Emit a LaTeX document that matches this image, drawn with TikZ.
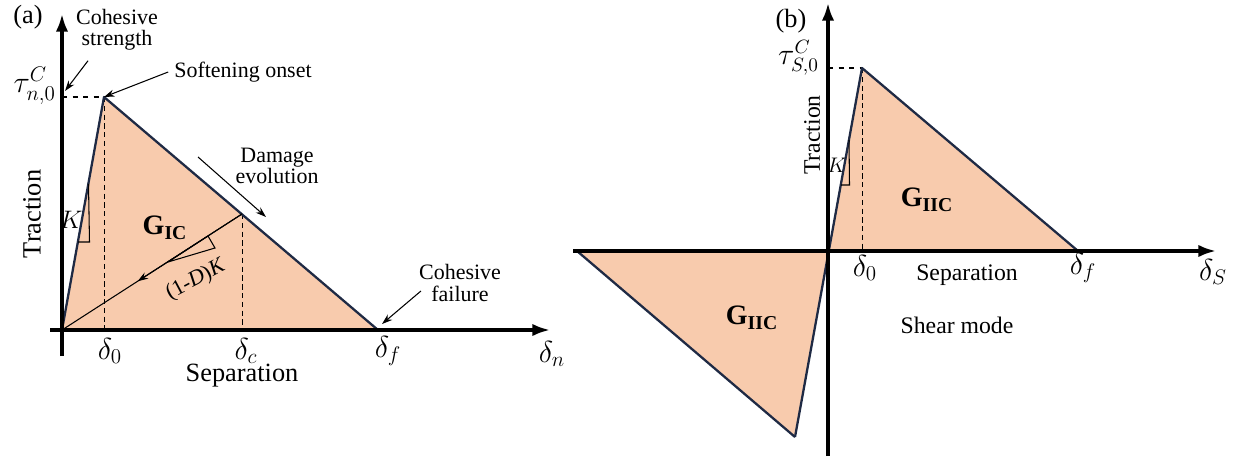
\documentclass[tikz,border=0pt]{standalone}
\usepackage{fontspec}
\setmainfont{Liberation Serif}
\usetikzlibrary{arrows.meta, positioning, calc}
\definecolor{peach}{HTML}{F8CBAD}
\definecolor{edgeblue}{HTML}{1F2A44}
\tikzset{
  axis/.style    = {line width=1.8pt, -{Latex[length=10pt,width=7pt]}},
  curve/.style   = {line width=1.3pt, draw=edgeblue, line join=round},
  area/.style    = {fill=peach},
  guide/.style   = {densely dashed, line width=0.5pt},
  level/.style   = {dashed, line width=1pt},
  note/.style    = {align=center, font=\fontsize{12.5}{12}\selectfont},
  pointer/.style = {line width=0.6pt, -{Stealth[length=6pt,width=4pt]}},
  title/.style   = {font=\fontsize{15}{16}\selectfont},
  tick/.style    = {font=\fontsize{18}{19}\selectfont},
  energy/.style  = {font=\fontsize{16}{17}\selectfont\bfseries}
}

\begin{document}
\begin{tikzpicture}[x=0.02cm, y=-0.02cm]
  \useasboundingbox (0,0) rectangle (1233,459);

  % Panel (a): key points of the normal law
  \coordinate (oa) at (62,330);
  \coordinate (pa) at (104,97);
  \coordinate (ca) at (242,214);
  \coordinate (fa) at (378,330);

  % Energy area and guides
  \fill[area] (oa) -- (pa) -- (fa) -- cycle;
  \draw[guide] (pa) -- (pa |- oa);
  \draw[guide] (ca) -- (ca |- oa);
  \draw[level] (62,97) -- (pa);
  \draw[curve] (oa) -- (pa) -- (fa);

  % Unloading path with reduced stiffness
  \draw[line width=0.6pt] (ca) -- (oa);
  \draw[line width=0.6pt, -{Stealth[length=6pt,width=4pt]}] (ca) -- ($(ca)!0.58!(oa)$);
  \draw[line width=0.6pt] (168,262) -- (208,236) -- (215,248) -- cycle;
  \draw[line width=0.6pt] (88.5,184) -- (89.5,242) -- (78,242);

  % Axes
  \draw[axis] (62,356) -- (62,14);
  \draw[axis] (50,330) -- (550,330);

  % Labels
  \node[title] (tag-a) at (28,17) {(a)};
  \node[anchor=east, font=\fontsize{18}{19}\selectfont] (tau-n) at (62,86) {$\tau^{C}_{n,0}$};
  \node[title, rotate=90] (trac-a) at (32,214) {Traction};
  \node[title] (sep-a) at (242,376) {Separation};
  \node[tick] (d0-a) at (110,351) {$\delta_0$};
  \node[tick] (dc-a) at (246,351) {$\delta_c$};
  \node[tick] (df-a) at (388,351) {$\delta_f$};
  \node[tick] (dn-a) at (552,354) {$\delta_n$};
  \node[energy] (gic) at (165,228) {G\textsubscript{IC}};
  \node[font=\fontsize{14}{15}\selectfont] (k-a) at (71,220) {$K$};
  \node[note, rotate=28] (dk) at (196,280) {(1-\textit{D})\textit{K}};

  % Annotations
  \node[note] (cs) at (117,30) {Cohesive\\strength};
  \node[note] (so) at (243,72) {Softening onset};
  \node[note] (de) at (277,166) {Damage\\evolution};
  \node[note] (cf) at (460,283) {Cohesive\\failure};
  \coordinate (tn) at (65,91);
  \coordinate (de-from) at (198,157);
  \coordinate (de-to) at (266,217);
  \draw[pointer] ([shift={(-29,4)}]cs.south) -- (tn);
  \draw[pointer] (so.west) -- (pa);
  \draw[pointer] (de-from) -- (de-to);
  \draw[pointer] ([shift={(8,8)}]cf.west) -- ([shift={(4,-6)}]fa);

  % Panel (b): key points of the shear law
  \coordinate (ob) at (829,251);
  \coordinate (pb) at (862,68);
  \coordinate (fb) at (1078,251);
  \coordinate (lb) at (577,251);
  \coordinate (bb) at (795,437);

  % Energy areas and guides
  \fill[area] (ob) -- (pb) -- (fb) -- cycle;
  \fill[area] (ob) -- (lb) -- (bb) -- cycle;
  \draw[guide] (pb) -- (pb |- ob);
  \draw[level] (828,68) -- (pb);
  \draw[curve] (bb) -- (pb) -- (fb);
  \draw[curve] (lb) -- (bb);
  \draw[line width=0.6pt] (849,140) -- (849.5,185) -- (841,185);

  % Axes
  \draw[axis] (828,456) -- (828,3);
  \draw[axis] (573,251) -- (1216,251);

  % Labels
  \node[title] (tag-b) at (791,21) {(b)};
  \node[anchor=east, font=\fontsize{16}{17}\selectfont] (tau-s) at (825,58) {$\tau^{C}_{S,0}$};
  \node[rotate=90, font=\fontsize{13.5}{14}\selectfont] (trac-b) at (812,135) {Traction};
  \node[font=\fontsize{13.5}{14}\selectfont] (sep-b) at (967,275) {Separation};
  \node[font=\fontsize{13.5}{14}\selectfont] (mode-b) at (957,325) {Shear mode};
  \node[font=\fontsize{17}{18}\selectfont] (d0-b) at (865,268) {$\delta_0$};
  \node[font=\fontsize{17}{18}\selectfont] (df-b) at (1083,268) {$\delta_f$};
  \node[font=\fontsize{17}{18}\selectfont] (ds-b) at (1213,272) {$\delta_S$};
  \node[energy] (giic-up) at (927,200) {G\textsubscript{IIC}};
  \node[energy] (giic-lo) at (752,318) {G\textsubscript{IIC}};
  \node[font=\fontsize{12.5}{13}\selectfont] (k-b) at (837,165) {$K$};
\end{tikzpicture}
\end{document}
